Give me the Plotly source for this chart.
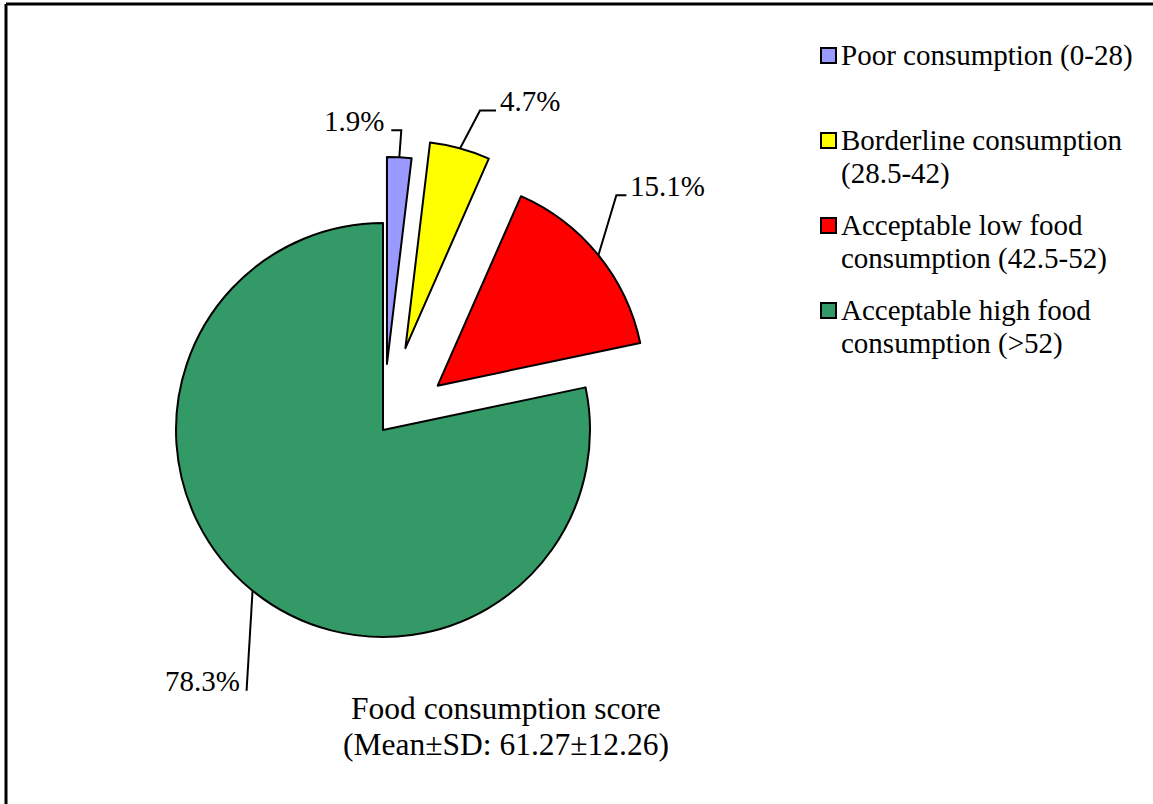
import math
import plotly.graph_objects as go

# ---- data -------------------------------------------------------------
categories = [
    "Poor consumption (0-28)",
    "Borderline consumption (28.5-42)",
    "Acceptable low food consumption (42.5-52)",
    "Acceptable high food consumption (>52)",
]
legend_lines = [
    ["Poor consumption (0-28)"],
    ["Borderline consumption", "(28.5-42)"],
    ["Acceptable low food", "consumption (42.5-52)"],
    ["Acceptable high food", "consumption (>52)"],
]
shares = [1.9, 4.7, 15.1, 78.3]
colors = ["#9999FF", "#FFFF00", "#FF0000", "#339966"]
title_lines = ["Food consumption score", "(Mean±SD: 61.27±12.26)"]

# ---- layout geometry (pixels) -----------------------------------------
W, H = 1153, 804
CX, CY, R = 383, 430, 207
pull = [0.32, 0.41, 0.34, 0.0]
# leader line per slice: elbow offset (dx, dy) from the arc, then horizontal run
leader = [(2, -27, -10), (20, -38, 16), (18, -60, 10), (-6, 100, 0)]
LABEL_FONT = 29
LEGEND_FONT = 29
TITLE_FONT = 31.5
SERIF = "Liberation Serif"


def px(x):
    return x / W


def py(y):
    return 1 - y / H


half = R * (1 + max(pull))
fig = go.Figure(
    go.Pie(
        labels=categories,
        values=shares,
        sort=False,
        direction="clockwise",
        rotation=0,
        pull=pull,
        marker=dict(colors=colors, line=dict(color="black", width=2)),
        textinfo="none",
        hoverinfo="label+percent",
        showlegend=False,
        domain=dict(x=[px(CX - half), px(CX + half)],
                    y=[py(CY + half), py(CY - half)]),
    )
)

shapes = []
annotations = []

# percentage labels with elbow leader lines
total = sum(shares)
cum = 0.0
for v, p, (dx, dy, hl) in zip(shares, pull, leader):
    theta = 2 * math.pi * (cum + v / 2) / total
    cum += v
    ux, uy = math.sin(theta), -math.cos(theta)
    ax, ay = CX + (1 + p) * R * ux, CY + (1 + p) * R * uy
    ex, ey = ax + dx, ay + dy
    tx, ty = ex + hl, ey
    shapes.append(dict(
        type="path", xref="paper", yref="paper",
        path=f"M {px(ax)},{py(ay)} L {px(ex)},{py(ey)} L {px(tx)},{py(ty)}",
        line=dict(color="black", width=2),
    ))
    right = hl < 0 or (hl == 0 and ux < 0)
    gap = 5 if right else 2
    annotations.append(dict(
        x=px(tx - gap if right else tx + gap), y=py(ty - 0.33 * LABEL_FONT),
        xref="paper", yref="paper",
        xanchor="right" if right else "left", yanchor="middle",
        text=f"{v:.1f}%", showarrow=False,
        font=dict(family=SERIF, size=LABEL_FONT, color="black"),
    ))

# legend: coloured squares with wrapped text
LEG_X, LEG_Y0, LEG_STEP, LINE_STEP, SQ = 821, 55.5, 85, 33.3, 15
for i, (lines, c) in enumerate(zip(legend_lines, colors)):
    yc = LEG_Y0 + i * LEG_STEP
    shapes.append(dict(
        type="rect", xref="paper", yref="paper",
        x0=px(LEG_X), x1=px(LEG_X + SQ), y0=py(yc - SQ / 2), y1=py(yc + SQ / 2),
        fillcolor=c, line=dict(color="black", width=2),
    ))
    for j, t in enumerate(lines):
        base = yc + 9.5 + j * LINE_STEP
        annotations.append(dict(
            x=px(LEG_X + SQ + 3), y=py(base - 0.33 * LEGEND_FONT),
            xref="paper", yref="paper", xanchor="left", yanchor="middle",
            text=t, showarrow=False,
            font=dict(family=SERIF, size=LEGEND_FONT, color="black"),
        ))

# caption under the pie
for j, t in enumerate(title_lines):
    base = 719 + j * 36
    annotations.append(dict(
        x=px(506), y=py(base - 0.33 * TITLE_FONT),
        xref="paper", yref="paper", xanchor="center", yanchor="middle",
        text=t, showarrow=False,
        font=dict(family=SERIF, size=TITLE_FONT, color="black"),
    ))

# frame
shapes.append(dict(type="line", xref="paper", yref="paper",
                   x0=px(6), x1=px(W + 5), y0=py(4), y1=py(4),
                   line=dict(color="black", width=3)))
shapes.append(dict(type="line", xref="paper", yref="paper",
                   x0=px(6), x1=px(6), y0=py(4), y1=py(H + 5),
                   line=dict(color="black", width=3)))

fig.update_layout(
    width=W, height=H,
    margin=dict(l=0, r=0, t=0, b=0),
    paper_bgcolor="white", plot_bgcolor="white",
    shapes=shapes, annotations=annotations,
    font=dict(family=SERIF, color="black"),
)

fig.write_html("out.html")
